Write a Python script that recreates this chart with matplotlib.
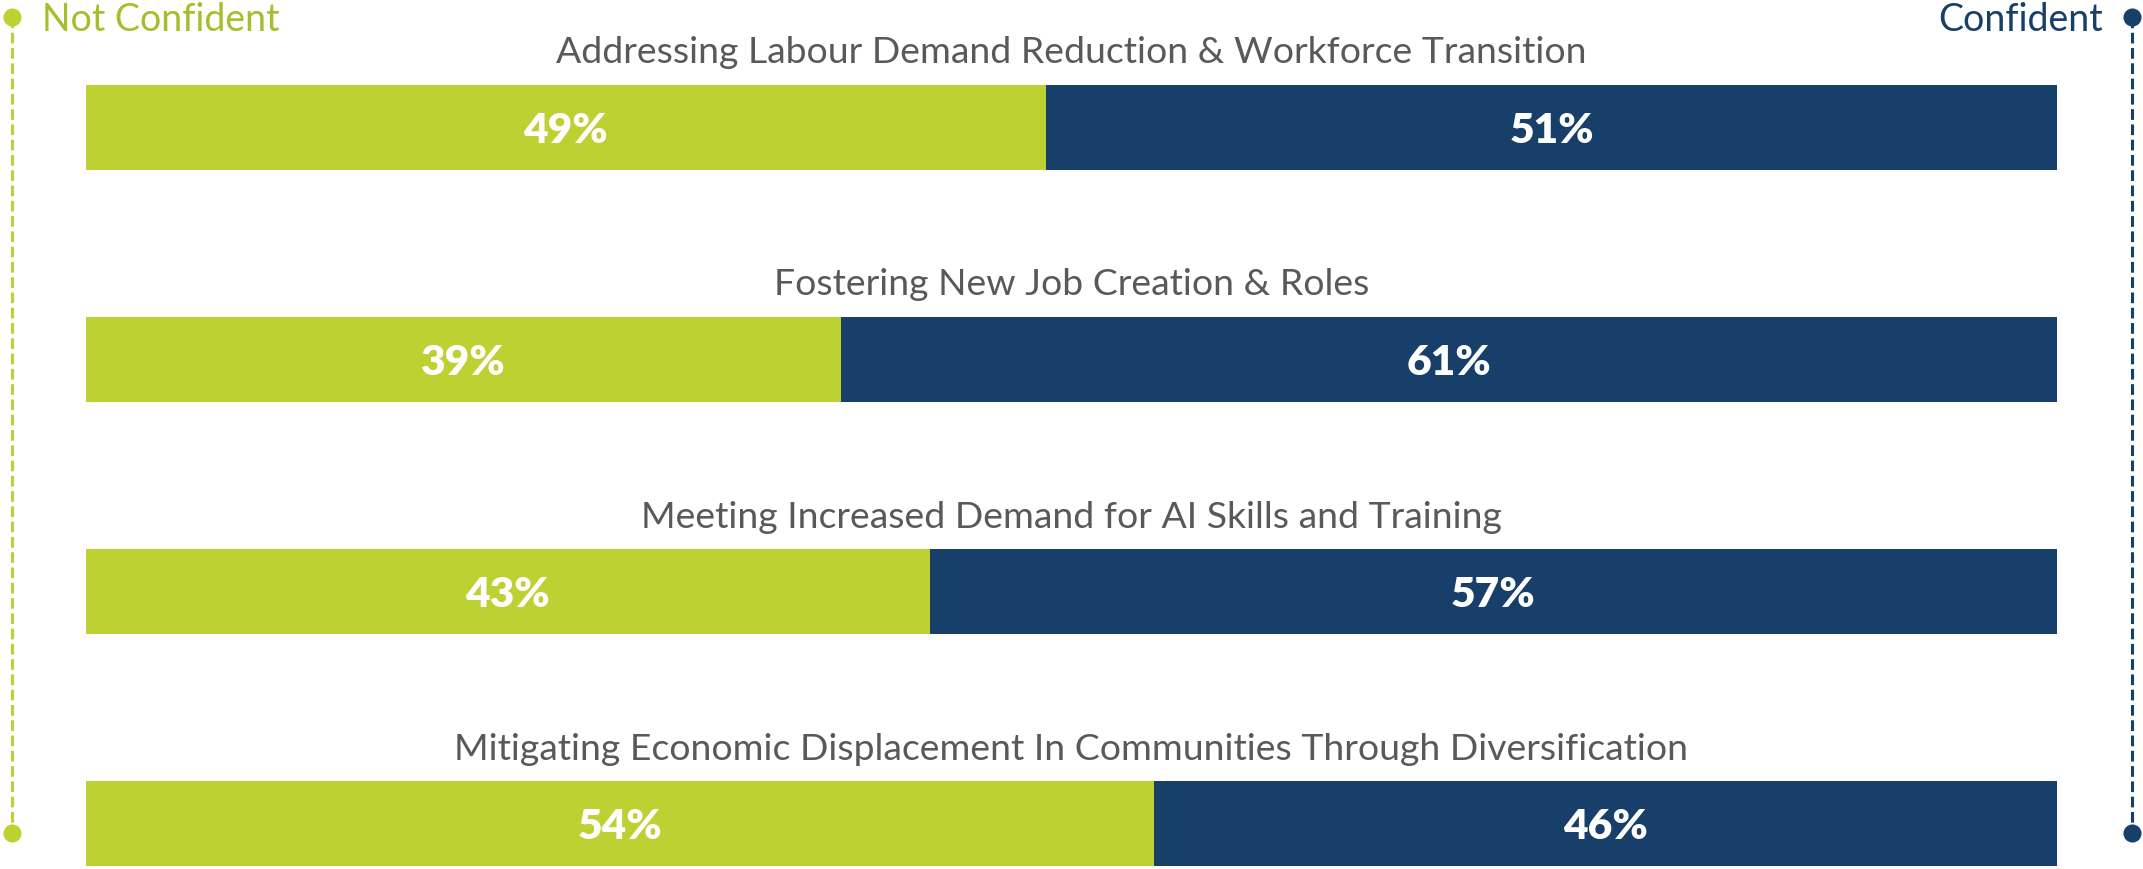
import matplotlib
matplotlib.use("Agg")
import matplotlib.pyplot as plt
import numpy as np

plt.rcParams['font.family'] = ['Lato', 'DejaVu Sans']

# data
categories = [
    "Addressing Labour Demand Reduction & Workforce Transition",
    "Fostering New Job Creation & Roles",
    "Meeting Increased Demand for AI Skills and Training",
    "Mitigating Economic Displacement In Communities Through Diversification",
]
not_confident = [48.7, 38.3, 42.8, 54.2]
confident = [51.3, 61.7, 57.2, 45.8]
nc_labels = ["49%", "39%", "43%", "54%"]
c_labels = ["51%", "61%", "57%", "46%"]

GREEN = '#bdd232'
GREEN_TXT = '#a9bd2c'
NAVY = '#183f6a'
GREY = '#595959'

W, H = 2143, 869
fig = plt.figure(figsize=(W / 100, H / 100), dpi=100)
ax = fig.add_axes([86 / W, 0, (2057 - 86) / W, 1])

y = np.arange(len(categories))
bar_h = 0.366
ax.barh(y, not_confident, height=bar_h, color=GREEN, linewidth=0)
ax.barh(y, confident, left=not_confident, height=bar_h, color=NAVY, linewidth=0)

ax.set_xlim(0, 100)
ax.set_ylim(3.195, -0.547)
ax.axis('off')

for i in range(len(categories)):
    ax.text(50, y[i] - 0.275, categories[i], ha='center', va='baseline',
            fontsize=26.9, color=GREY)
    ax.text(not_confident[i] / 2, y[i], nc_labels[i], ha='center',
            va='center_baseline', fontsize=30.5, fontweight='heavy', color='white')
    ax.text(not_confident[i] + confident[i] / 2, y[i], c_labels[i], ha='center',
            va='center_baseline', fontsize=30.5, fontweight='heavy', color='white')

# dashed guides with end dots
top, bot = 1 - 17 / H, 1 - 833 / H
for xp, col in [(12 / W, GREEN), (2132 / W, NAVY)]:
    fig.add_artist(plt.Line2D([xp, xp], [top, bot], transform=fig.transFigure,
                              color=col, lw=2.2, ls=(0, (3.5, 1.5))))
    fig.add_artist(plt.Line2D([xp, xp], [top, bot], transform=fig.transFigure,
                              color=col, lw=0, marker='o', markersize=12))

fig.text(42 / W, 1 - 31 / H, "Not Confident", ha='left', va='baseline',
         fontsize=27, color=GREEN_TXT)
fig.text(2103 / W, 1 - 31 / H, "Confident", ha='right', va='baseline',
         fontsize=27, color=NAVY)

fig.savefig("out.png", dpi=100, facecolor='white')
